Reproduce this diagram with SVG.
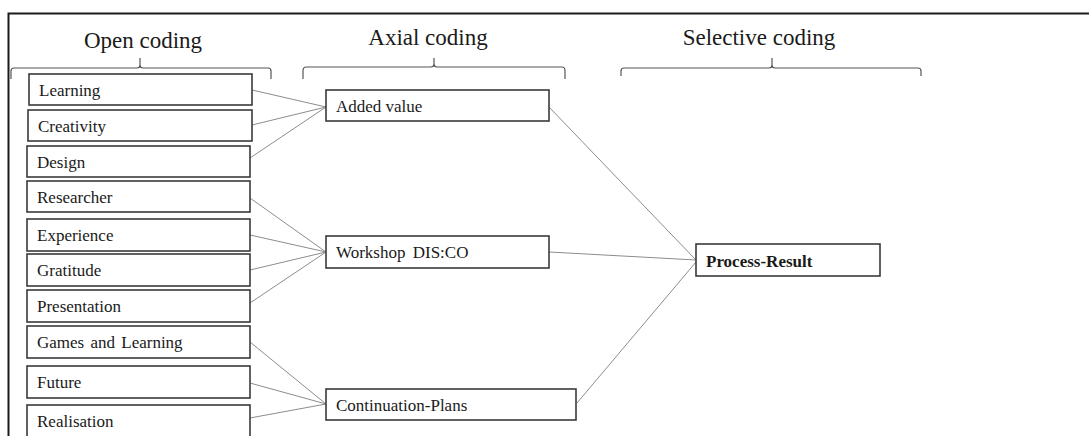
<svg xmlns="http://www.w3.org/2000/svg" width="1089" height="436" viewBox="0 0 1089 436">
<style>
  .frame{fill:none;stroke:#1a1a1a;stroke-width:2}
  .brace{fill:none;stroke:#555;stroke-width:1.2}
  .head{font-family:"Liberation Serif","Times New Roman",serif;font-size:23px;fill:#1a1a1a;text-anchor:middle}
  .box{fill:#fff;stroke:#3a3a3a;stroke-width:1.6}
  .lbl{font-family:"Liberation Serif","Times New Roman",serif;font-size:17px;fill:#1a1a1a}
  .bold{font-weight:bold}
  .conn{stroke:#8c8c8c;stroke-width:1;fill:none}
</style>
<rect width="1089" height="436" fill="#fff"/>
<path class="frame" d="M8.5,440 V13.5 H1092"/>
<g id="headers">
  <text class="head" x="143" y="48">Open coding</text>
  <path class="brace" d="M11,79 V71 Q11,68 14,68 H137 Q140,68 140,65 V58 M140,65 Q140,68 143,68 H268 Q271,68 271,71 V79"/>
  <text class="head" x="428" y="45">Axial coding</text>
  <path class="brace" d="M303,79 V71 Q303,67 306,67 H431 Q434,67 434,64 V58 M434,64 Q434,67 437,67 H562 Q565,67 565,71 V79"/>
  <text class="head" x="759" y="45">Selective coding</text>
  <path class="brace" d="M621,76 V71 Q621,68 624,68 H769 Q772,68 772,65 V58 M772,65 Q772,68 775,68 H918 Q921,68 921,71 V76"/>
</g>
<g id="connectors">
  <line class="conn" x1="252" y1="90" x2="326" y2="107"/>
  <line class="conn" x1="252" y1="125" x2="326" y2="107"/>
  <line class="conn" x1="250" y1="158" x2="326" y2="107"/>
  <line class="conn" x1="250" y1="198" x2="326" y2="252"/>
  <line class="conn" x1="250" y1="235" x2="326" y2="252"/>
  <line class="conn" x1="250" y1="270" x2="326" y2="252"/>
  <line class="conn" x1="250" y1="303" x2="326" y2="252"/>
  <line class="conn" x1="250" y1="342" x2="326" y2="404"/>
  <line class="conn" x1="250" y1="383" x2="326" y2="404"/>
  <line class="conn" x1="250" y1="418" x2="326" y2="404"/>
  <line class="conn" x1="549" y1="107" x2="696" y2="260"/>
  <line class="conn" x1="549" y1="252" x2="696" y2="260"/>
  <line class="conn" x1="577" y1="403" x2="696" y2="262"/>
</g>
<g id="n-learning"><rect class="box" x="29" y="74" width="223" height="31"/><text class="lbl" x="39" y="96">Learning</text></g>
<g id="n-creativity"><rect class="box" x="28" y="110" width="224" height="31"/><text class="lbl" x="38" y="132">Creativity</text></g>
<g id="n-design"><rect class="box" x="27" y="146" width="223" height="31"/><text class="lbl" x="37" y="168">Design</text></g>
<g id="n-researcher"><rect class="box" x="27" y="181" width="223" height="31"/><text class="lbl" x="37" y="203">Researcher</text></g>
<g id="n-experience"><rect class="box" x="27" y="219" width="223" height="32"/><text class="lbl" x="37" y="241">Experience</text></g>
<g id="n-gratitude"><rect class="box" x="27" y="254" width="223" height="32"/><text class="lbl" x="37" y="276">Gratitude</text></g>
<g id="n-presentation"><rect class="box" x="27" y="290" width="223" height="32"/><text class="lbl" x="37" y="312">Presentation</text></g>
<g id="n-games"><rect class="box" x="27" y="326" width="223" height="32"/><text class="lbl" x="37" y="348" word-spacing="2">Games and Learning</text></g>
<g id="n-future"><rect class="box" x="27" y="366" width="223" height="32"/><text class="lbl" x="37" y="388">Future</text></g>
<g id="n-realisation"><rect class="box" x="27" y="405" width="223" height="34"/><text class="lbl" x="37" y="427">Realisation</text></g>
<g id="n-added-value"><rect class="box" x="326" y="90" width="223" height="31"/><text class="lbl" x="336" y="112">Added value</text></g>
<g id="n-workshop"><rect class="box" x="326" y="236" width="223" height="32"/><text class="lbl" x="336" y="258" word-spacing="3">Workshop DIS:CO</text></g>
<g id="n-continuation"><rect class="box" x="326" y="389" width="250" height="31"/><text class="lbl" x="336" y="411">Continuation-Plans</text></g>
<g id="n-process-result"><rect class="box" x="696" y="244" width="184" height="32"/><text class="lbl bold" x="706" y="267">Process-Result</text></g>
</svg>
